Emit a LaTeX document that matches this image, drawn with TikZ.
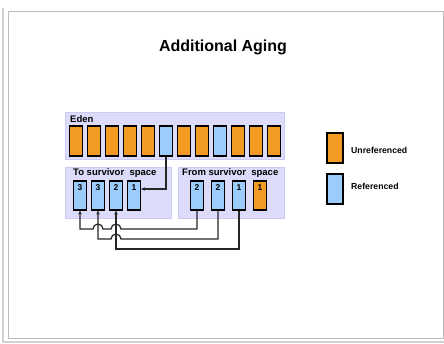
\documentclass[tikz,border=0pt]{standalone}
\usepackage{fontspec}
\setmainfont{Liberation Sans}
\usetikzlibrary{arrows.meta}
\definecolor{orng}{HTML}{F39A22}
\definecolor{lblue}{HTML}{9CCCFC}
\definecolor{lav}{HTML}{DCDCFA}
\definecolor{lavb}{HTML}{CACAF2}
\definecolor{frm}{HTML}{BDBDBD}
\tikzset{
  cellbase/.style={draw=black,line width=1.1pt,minimum width=13pt,minimum height=29pt,inner sep=0pt,anchor=center},
  ucell/.style={cellbase,fill=orng},
  rcell/.style={cellbase,fill=lblue},
  area/.style={fill=lav,draw=lavb,line width=0.8pt},
  arealabel/.style={anchor=west,font=\bfseries\fontsize{9.5}{11}\selectfont,inner sep=0pt},
  numtext/.style={font=\bfseries\fontsize{8.5}{9}\selectfont,anchor=north,inner sep=0pt},
  conn/.style={draw=black!85,line width=1.2pt},
  tip/.style={-{Stealth[length=4pt,width=3.5pt]}},
  legtext/.style={anchor=west,font=\bfseries\fontsize{8.7}{10}\selectfont,inner sep=0pt},
}
\begin{document}
\begin{tikzpicture}[x=1pt,y=1pt]
\useasboundingbox (0,0) rectangle (444,-343);
% frame
\draw[frm,line width=1pt] (8,-11) rectangle (443,-338);
\draw[frm!70,line width=1.2pt] (3,-8) -- (3,-342) -- (444,-342);
% title
\node[font=\bfseries\fontsize{16}{18}\selectfont] (title) at (223,-47) {Additional Aging};
% areas
\draw[area] (65,-112) rectangle (284,-159);
\draw[area] (65,-167) rectangle (171,-218);
\draw[area] (178,-167) rectangle (284,-218);
\node[arealabel] (edenl) at (70,-119) {Eden};
\node[arealabel] (tol) at (73,-173) {To survivor\ \ space};
\node[arealabel] (froml) at (182,-173) {From survivor\ \ space};
% eden cells
\foreach \i in {1,...,12}{
  \pgfmathsetmacro{\cx}{76+18*(\i-1)}
  \ifnum\i=6 \node[rcell,minimum height=30pt] (e\i) at (\cx,-141) {};
  \else\ifnum\i=9 \node[rcell,minimum height=30pt] (e\i) at (\cx,-141) {};
  \else \node[ucell,minimum height=30pt] (e\i) at (\cx,-141) {};
  \fi\fi
}
% to survivor cells
\node[rcell] (t1) at (80,-195.5) {};
\node[rcell] (t2) at (98,-195.5) {};
\node[rcell] (t3) at (116,-195.5) {};
\node[rcell] (t4) at (134,-195.5) {};
% from survivor cells
\node[rcell] (f1) at (197,-195.5) {};
\node[rcell] (f2) at (218,-195.5) {};
\node[rcell] (f3) at (239,-195.5) {};
\node[ucell] (f4) at (260,-195.5) {};
% numbers
\foreach \n/\v in {t1/3,t2/3,t3/2,t4/1,f1/2,f2/2,f3/1,f4/1}{
  \node[numtext] (\n num) at ([yshift=-4pt]\n.north) {\v};
}
% eden -> to survivor
\draw[conn,tip] (e6.south) |- ([yshift=6.5pt]t4.east);
% from -> to, with hops
\draw[conn,tip] (f1.south) -- (f1.south |- 0,-229) -- (121,-229)
  arc[start angle=0,end angle=180,radius=5] -- (103,-229)
  arc[start angle=0,end angle=180,radius=5] -- (t1.south |- 0,-229) -- (t1.south);
\draw[conn,tip] (f2.south) -- (f2.south |- 0,-239) -- (121,-239)
  arc[start angle=0,end angle=180,radius=5] -- (t2.south |- 0,-239) -- (t2.south);
\draw[conn,tip] (f3.south) -- (f3.south |- 0,-249) -- (t3.south |- 0,-249) -- (t3.south);
% legend
\node[ucell,minimum width=16pt,minimum height=30pt] (lu) at (335,-148) {};
\node[rcell,minimum width=16pt,minimum height=30pt] (lr) at (335,-189) {};
\node[legtext] (lut) at (351,-150) {Unreferenced};
\node[legtext] (lrt) at (351,-186) {Referenced};
\end{tikzpicture}
\end{document}
